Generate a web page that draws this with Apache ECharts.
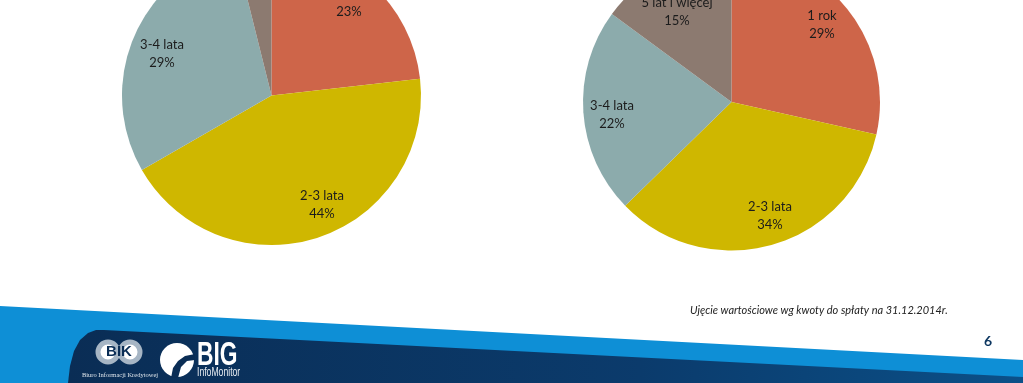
<!DOCTYPE html>
<html>
<head>
<meta charset="utf-8">
<style>
  html, body { margin: 0; padding: 0; background: #fff; }
  #chart { width: 1023px; height: 383px; }
</style>
<script src="https://cdn.jsdelivr.net/npm/echarts@6/dist/echarts.min.js"></script>
</head>
<body>
<div id="chart"></div>
<script>
const categories = ['1 rok', '2-3 lata', '3-4 lata', '5 lat i więcej'];
const leftValues = [23.2, 43.5, 29.4, 3.9];
const rightValues = [28.5, 34.2, 22.4, 14.9];
const sliceColors = ['#CE6549', '#CFB700', '#8CABAC', '#8C7A70'];
const footnote = 'Ujęcie wartościowe wg kwoty do spłaty na 31.12.2014r.';
const pageNumber = '6';

const FONT = 'Lato, "Open Sans", sans-serif';

// label centres are hand placed on the slide, not at slice midpoints
const leftLabelAt = [[349, 3], [322, 205], [162, 54], null];
const rightLabelAt = [[822, 25], [770, 216], [612, 115], [677, 12]];

function pieSeries(values, center, radius, labelAt) {
  return {
    type: 'pie',
    center: center,
    radius: radius,
    startAngle: 90,
    clockwise: true,
    silent: true,
    animation: false,
    labelLine: { show: false },
    label: {
      position: 'inside',
      formatter: (p) => p.name + '\n' + Math.round(p.percent) + '%',
      color: '#1c1c1c',
      fontFamily: FONT,
      fontSize: 13,
      lineHeight: 18,
      align: 'center',
      verticalAlign: 'middle'
    },
    labelLayout: (params) => {
      const at = labelAt[params.dataIndex];
      return at ? { x: at[0], y: at[1], align: 'center', verticalAlign: 'middle' } : {};
    },
    data: categories.map((name, i) => ({
      name: name,
      value: values[i],
      itemStyle: { color: sliceColors[i] },
      label: { show: labelAt[i] !== null }
    }))
  };
}

// slide footer: blue swoosh, navy panel, logos
const footer = [
  {
    type: 'polygon', z: -3, silent: true,
    shape: { points: [[0, 306], [1023, 360], [1023, 383], [0, 383]] },
    style: { fill: '#0E8FD6' }
  },
  {
    type: 'polygon', z: -2, silent: true,
    shape: { points: [[68, 383], [70, 366], [74, 351], [80, 340], [88, 333], [96, 330], [104, 330], [1023, 377], [1023, 383]] },
    style: {
      fill: {
        type: 'linear', x: 0, y: 0, x2: 1, y2: 0,
        colorStops: [{ offset: 0, color: '#0A2D55' }, { offset: 0.6, color: '#0B3B6C' }, { offset: 1, color: '#0B5088' }]
      }
    }
  },
  { type: 'circle', silent: true, shape: { cx: 108, cy: 352, r: 10 }, style: { fill: '#FFFFFF', stroke: '#A6B5C4', lineWidth: 5 } },
  { type: 'circle', silent: true, shape: { cx: 130, cy: 352, r: 10 }, style: { fill: '#FFFFFF', stroke: '#A6B5C4', lineWidth: 5 } },
  {
    type: 'text', silent: true, x: 119, y: 352,
    style: { text: 'BIK', fill: '#0A2D55', font: 'bold 15px "Liberation Sans"', align: 'center', verticalAlign: 'middle' }
  },
  {
    type: 'text', silent: true, x: 120, y: 375,
    style: { text: 'Biuro Informacji Kredytowej', fill: '#DDE4EA', font: '6.5px "Liberation Serif"', align: 'center', verticalAlign: 'middle' }
  },
  { type: 'circle', silent: true, shape: { cx: 177, cy: 360, r: 17 }, style: { fill: '#FFFFFF' } },
  {
    type: 'polygon', silent: true,
    shape: { points: [[171, 378], [173, 368], [178, 361], [185, 356], [195, 354], [195, 360], [187, 361], [181, 367], [178, 378]] },
    style: { fill: '#0A2D55' }
  },
  {
    type: 'text', silent: true, x: 197, y: 356, scaleX: 0.67,
    style: { text: 'BIG', fill: '#FFFFFF', font: 'bold 34px "Liberation Sans"', align: 'left', verticalAlign: 'middle' }
  },
  {
    type: 'text', silent: true, x: 197, y: 373, scaleX: 0.72,
    style: { text: 'InfoMonitor', fill: '#E8EDF2', font: '12px "Liberation Sans"', align: 'left', verticalAlign: 'middle' }
  },
  {
    type: 'text', silent: true, x: 690, y: 310,
    style: { text: footnote, fill: '#222222', font: 'italic 11px ' + FONT, align: 'left', verticalAlign: 'middle' }
  },
  {
    type: 'text', silent: true, x: 988, y: 341,
    style: { text: pageNumber, fill: '#0C3660', font: 'bold 14px ' + FONT, align: 'center', verticalAlign: 'middle' }
  }
];

const chart = echarts.init(document.getElementById('chart'), null, { renderer: 'canvas' });
chart.setOption({
  animation: false,
  backgroundColor: '#fff',
  series: [
    pieSeries(leftValues, [271.5, 95.5], 149.5, leftLabelAt),
    pieSeries(rightValues, [731.5, 102], 148.5, rightLabelAt)
  ],
  graphic: { elements: footer }
});
</script>
</body>
</html>
